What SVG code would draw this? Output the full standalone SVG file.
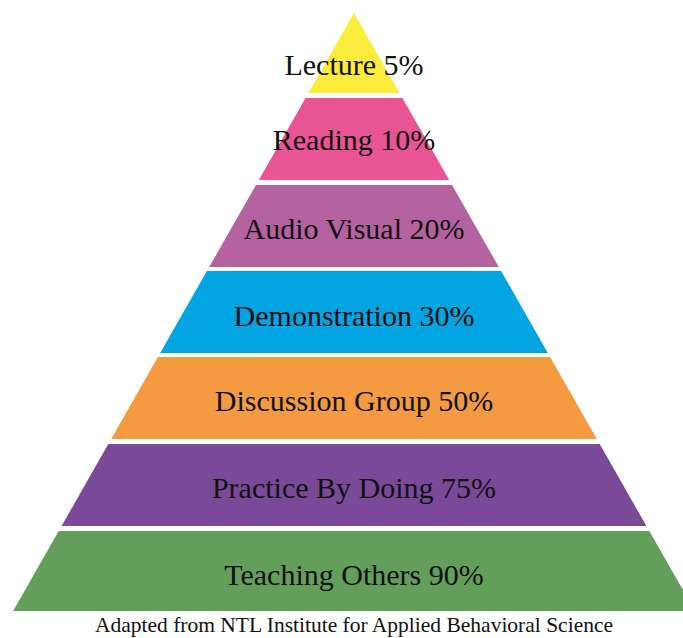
<svg xmlns="http://www.w3.org/2000/svg" width="683" height="638" viewBox="0 0 683 638">
  <style>
    .label { font-family: "Liberation Serif", "DejaVu Serif", serif; font-size: 30px; fill: #111; text-anchor: middle; }
    .caption { font-family: "Liberation Serif", "DejaVu Serif", serif; font-size: 21.5px; fill: #111; text-anchor: middle; }
  </style>
  <rect width="683" height="638" fill="#ffffff"/>
  <!-- pyramid tiers, top to bottom; one triangle (apex 354,13) cut into bands -->
  <g id="tier-lecture">
    <polygon points="354,13 399.6,93 308.4,93" fill="#FBEC3C"/>
    <text class="label" x="354" y="75">Lecture 5%</text>
  </g>
  <g id="tier-reading">
    <polygon points="305.6,98 402.4,98 449.2,180 258.8,180" fill="#E85494"/>
    <text class="label" x="354" y="150">Reading 10%</text>
  </g>
  <g id="tier-audio-visual">
    <polygon points="256,185 452,185 498.8,267 209.2,267" fill="#B462A0"/>
    <text class="label" x="354" y="239">Audio Visual 20%</text>
  </g>
  <g id="tier-demonstration">
    <polygon points="206.9,271 501.1,271 547.8,353 160.2,353" fill="#02A4E1"/>
    <text class="label" x="354" y="326">Demonstration 30%</text>
  </g>
  <g id="tier-discussion">
    <polygon points="157.9,357 550.1,357 596.8,439 111.2,439" fill="#F49A40"/>
    <text class="label" x="354" y="411">Discussion Group 50%</text>
  </g>
  <g id="tier-practice">
    <polygon points="108.3,444 599.7,444 646.4,526 61.6,526" fill="#7A4A98"/>
    <text class="label" x="354" y="498">Practice By Doing 75%</text>
  </g>
  <g id="tier-teaching">
    <polygon points="58.7,531 649.3,531 694.9,611 13.1,611" fill="#639F5A"/>
    <text class="label" x="354" y="585">Teaching Others 90%</text>
  </g>
  <g id="connectors"/>
  <text class="caption" x="354" y="632">Adapted from NTL Institute for Applied Behavioral Science</text>
</svg>
